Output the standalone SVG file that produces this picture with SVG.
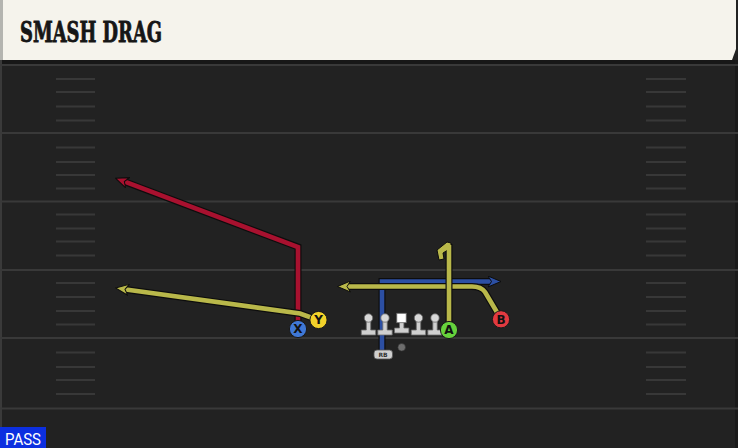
<svg xmlns="http://www.w3.org/2000/svg" width="738" height="448" viewBox="0 0 738 448">
<style>
.yard{stroke:#393939;stroke-width:2}
.hash{stroke:#383838;stroke-width:2}
.out{fill:none;stroke:#0d0d0d;stroke-width:7;stroke-linejoin:miter}
.rt{fill:none;stroke-width:4.6;stroke-linejoin:miter}
.red{stroke:#a8112f}
.yel{stroke:#b9b84a}
.blu{stroke:#2c4fa3}
.pl circle{stroke:#1a1a1a;stroke-width:1}
.lbl{font-family:'DejaVu Sans','Liberation Sans',sans-serif;font-weight:bold;font-size:12px;fill:#111;text-anchor:middle}
.ol{fill:#cfcfcf;stroke:#6a6a6a;stroke-width:0.8}
</style>
<defs>
<marker id="aR" viewBox="0 0 14 12" markerWidth="14" markerHeight="12" refX="5" refY="6" orient="auto" markerUnits="userSpaceOnUse"><path d="M0.5,0.5 L13.5,6 L0.5,11.5 L4,6 Z" fill="#a8112f" stroke="#0d0d0d" stroke-width="1"/></marker>
<marker id="aY" viewBox="0 0 14 12" markerWidth="14" markerHeight="12" refX="5" refY="6" orient="auto" markerUnits="userSpaceOnUse"><path d="M0.5,0.5 L13.5,6 L0.5,11.5 L4,6 Z" fill="#b9b84a" stroke="#0d0d0d" stroke-width="1"/></marker>
<marker id="aB" viewBox="0 0 14 12" markerWidth="14" markerHeight="12" refX="5" refY="6" orient="auto" markerUnits="userSpaceOnUse"><path d="M0.5,0.5 L13.5,6 L0.5,11.5 L4,6 Z" fill="#2c4fa3" stroke="#0d0d0d" stroke-width="1"/></marker>
<g id="lineman"><path class="ol" d="M-2.2,-11 v10 h-5 v5 h14.4 v-5 h-5 v-10 Z"/><circle cx="0" cy="-13" r="4.2" fill="#d8d8d8" stroke="#6a6a6a" stroke-width="0.8"/></g>
</defs>

<!-- field -->
<rect x="0" y="0" width="738" height="448" fill="#222222"/>
<rect x="0" y="60" width="738" height="5" fill="#171717"/>
<rect x="0" y="60" width="2" height="388" fill="#3a3a3a"/>
<rect x="735" y="60" width="3" height="388" fill="#1a1a1a"/>
<g id="yardlines">
<line class="yard" x1="0" y1="65" x2="738" y2="65"/>
<line class="yard" x1="0" y1="133" x2="738" y2="133"/>
<line class="yard" x1="0" y1="201.5" x2="738" y2="201.5"/>
<line class="yard" x1="0" y1="270" x2="738" y2="270"/>
<line class="yard" x1="0" y1="338" x2="738" y2="338"/>
<line class="yard" x1="0" y1="408.5" x2="738" y2="408.5"/>
</g>
<g id="hashes">
<path class="hash" d="M56,79H95M56,92H95M56,106.5H95M56,120.5H95M56,147.5H95M56,162H95M56,175H95M56,188.5H95M56,214.5H95M56,228.5H95M56,241.5H95M56,255.5H95M56,283H95M56,297H95M56,311H95M56,324.5H95M56,352.5H95M56,367H95M56,380H95M56,394H95"/>
<path class="hash" d="M646,79H686M646,92H686M646,106.5H686M646,120.5H686M646,147.5H686M646,162H686M646,175H686M646,188.5H686M646,214.5H686M646,228.5H686M646,241.5H686M646,255.5H686M646,283H686M646,297H686M646,311H686M646,324.5H686M646,352.5H686M646,367H686M646,380H686M646,394H686"/>
</g>

<!-- header -->
<g id="header">
<rect x="0" y="0" width="3" height="60" fill="#b4b4b0"/>
<path d="M3,0 H736 V49 L732,60 H3 Z" fill="#f5f3ec"/>
<text x="20" y="42" font-family="'DejaVu Serif','Liberation Serif',serif" font-weight="bold" font-size="28" textLength="142" lengthAdjust="spacingAndGlyphs" fill="#161616" stroke="#161616" stroke-width="0.9">SMASH DRAG</text>
</g>

<!-- connectors -->
<g id="routes">
<path class="out" d="M382,354 V281.5 H492.5"/>
<path class="rt blu" d="M382,354 V281.5 H492.5" marker-end="url(#aB)"/>
<path class="out" d="M501,319 L485,292 Q481,286.5 472,286.5 H346"/>
<path class="rt yel" d="M501,319 L485,292 Q481,286.5 472,286.5 H346" marker-end="url(#aY)"/>
<path class="out" d="M449,329 V244"/>
<path d="M447,242 L451,243 L451,248 L443,253 L444,259 L439,260 L437,250 Z" fill="#b9b84a" stroke="#0d0d0d" stroke-width="1"/>
<path class="rt yel" d="M449,329 V245"/>
<path class="out" d="M298,329 V247 L123.4,181.2"/>
<path class="rt red" d="M298,329 V247 L123.4,181.2" marker-end="url(#aR)"/>
<path class="out" d="M318,320 L300,313.5 L124,289.2"/>
<path class="rt yel" d="M318,320 L300,313.5 L124,289.2" marker-end="url(#aY)"/>
</g>

<!-- offensive line -->
<g id="OL1"><use href="#lineman" x="368.5" y="331"/></g>
<g id="OL2"><use href="#lineman" x="385" y="331"/></g>
<g id="C"><path class="ol" d="M399.5,322 v6 h-5 v5 h14.4 v-5 h-5 v-6 Z"/><rect x="396.8" y="313.3" width="9.4" height="9.4" fill="#ffffff" stroke="#6a6a6a" stroke-width="0.8"/></g>
<g id="OL4"><use href="#lineman" x="418.5" y="331"/></g>
<g id="OL5"><use href="#lineman" x="435" y="331"/></g>
<g id="QB"><circle cx="401.7" cy="347.3" r="3.8" fill="#6e6e6e" stroke="#333" stroke-width="0.6"/></g>
<g id="RB"><rect x="374" y="350" width="18.5" height="9" rx="3" fill="#cfcfcf" stroke="#555" stroke-width="0.8"/><text x="383" y="357.3" font-family="'DejaVu Sans','Liberation Sans',sans-serif" font-weight="bold" font-size="6" fill="#333" text-anchor="middle">RB</text></g>

<!-- receivers -->
<g id="X" class="pl"><circle cx="298" cy="329" r="8.6" fill="#3f78d6"/><text class="lbl" x="298" y="333.3">X</text></g>
<g id="Y" class="pl"><circle cx="318.5" cy="320" r="8.6" fill="#f2d22a"/><text class="lbl" x="318.5" y="324.3">Y</text></g>
<g id="A" class="pl"><circle cx="449" cy="330" r="8.6" fill="#66d23c"/><text class="lbl" x="449" y="334.3">A</text></g>
<g id="B" class="pl"><circle cx="501" cy="319.3" r="8.6" fill="#e23a40"/><text class="lbl" x="501" y="323.6">B</text></g>

<!-- play type -->
<g id="pass">
<rect x="0" y="427" width="46" height="21" fill="#0c2fe0"/>
<text x="5" y="445" font-family="'Roboto','Liberation Sans',sans-serif" font-size="16" fill="#ffffff" textLength="36" lengthAdjust="spacingAndGlyphs">PASS</text>
</g>
</svg>
